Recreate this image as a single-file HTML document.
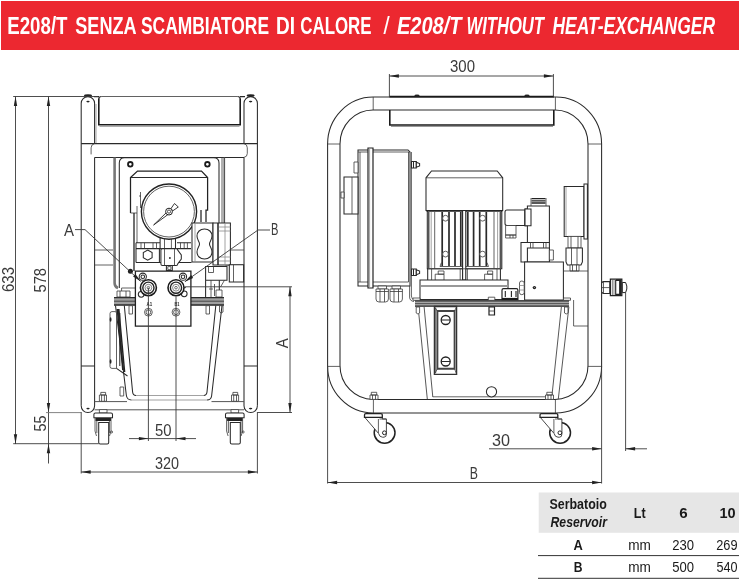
<!DOCTYPE html>
<html>
<head>
<meta charset="utf-8">
<title>E208/T</title>
<style>
html,body{margin:0;padding:0;background:#fff;}
body{width:739px;height:582px;overflow:hidden;font-family:"Liberation Sans",sans-serif;}
svg{display:block;position:absolute;left:0;top:0;will-change:transform;}
text{font-family:"Liberation Sans",sans-serif;}
.o{fill:none;stroke:#2a2a2a;stroke-width:1.05;}
.t{fill:none;stroke:#3a3a3a;stroke-width:.8;}
.g{fill:none;stroke:#8a8a8a;stroke-width:.8;}
.k{fill:none;stroke:#1a1a1a;stroke-width:1.6;}
.w{fill:#fff;stroke:#2a2a2a;stroke-width:1.05;}
.wt{fill:#fff;stroke:#3a3a3a;stroke-width:.8;}
.d{fill:none;stroke:#3a3a3a;stroke-width:.9;}
.a{fill:#222;stroke:none;}
.dt{fill:#3a3a3a;font-size:16.5px;}
.hb{fill:#fff;font-weight:bold;font-size:23px;}
.tb{fill:#1a1a1a;font-weight:bold;font-size:14px;}
.tr{fill:#1a1a1a;font-size:14px;}
</style>
</head>
<body>
<svg width="739" height="582" viewBox="0 0 739 582">
<!-- HEADER -->
<rect x="1" y="1" width="738" height="49" fill="#ec2830"/>
<text class="hb" x="7.25" y="33.5" textLength="60.28" lengthAdjust="spacingAndGlyphs">E208/T</text>
<text class="hb" x="75.25" y="33.5" textLength="61.32" lengthAdjust="spacingAndGlyphs">SENZA</text>
<text class="hb" x="141.00" y="33.5" textLength="128.03" lengthAdjust="spacingAndGlyphs">SCAMBIATORE</text>
<text class="hb" x="276.00" y="33.5" textLength="19.01" lengthAdjust="spacingAndGlyphs">DI</text>
<text class="hb" x="300.25" y="33.5" textLength="71.31" lengthAdjust="spacingAndGlyphs">CALORE</text>
<text class="hb" x="384.00" y="33.5" font-style="italic" textLength="4.33" lengthAdjust="spacingAndGlyphs">/</text>
<text class="hb" x="397.00" y="33.5" font-style="italic" textLength="64.53" lengthAdjust="spacingAndGlyphs">E208/T</text>
<text class="hb" x="466.50" y="33.5" font-style="italic" textLength="77.51" lengthAdjust="spacingAndGlyphs">WITHOUT</text>
<text class="hb" x="552.50" y="33.5" font-style="italic" textLength="162.50" lengthAdjust="spacingAndGlyphs">HEAT-EXCHANGER</text>

<!-- TABLE -->
<g id="table">
<rect x="538.7" y="492.5" width="201" height="40.3" fill="#e6e6e6"/>
<text class="tb" x="549.50" y="508.8" textLength="57.27" lengthAdjust="spacingAndGlyphs">Serbatoio</text>
<text class="tb" x="550.50" y="526.7" font-style="italic" textLength="56.50" lengthAdjust="spacingAndGlyphs">Reservoir</text>
<text class="tb" x="633.75" y="517.6" textLength="11.83" lengthAdjust="spacingAndGlyphs">Lt</text>
<text class="tb" x="679.25" y="517.6" textLength="8.41" lengthAdjust="spacingAndGlyphs">6</text>
<text class="tb" x="719.50" y="517.6" textLength="16.15" lengthAdjust="spacingAndGlyphs">10</text>
<text class="tb" x="573.50" y="549.8" textLength="9.32" lengthAdjust="spacingAndGlyphs">A</text>
<text class="tr" x="628.25" y="549.8" textLength="22.66" lengthAdjust="spacingAndGlyphs">mm</text>
<text class="tr" x="672.25" y="549.8" textLength="21.83" lengthAdjust="spacingAndGlyphs">230</text>
<text class="tr" x="716.25" y="549.8" textLength="21.33" lengthAdjust="spacingAndGlyphs">269</text>
<text class="tb" x="573.75" y="571.8" textLength="8.76" lengthAdjust="spacingAndGlyphs">B</text>
<text class="tr" x="628.25" y="571.8" textLength="22.66" lengthAdjust="spacingAndGlyphs">mm</text>
<text class="tr" x="672.25" y="571.8" textLength="21.82" lengthAdjust="spacingAndGlyphs">500</text>
<text class="tr" x="716.50" y="571.8" textLength="21.05" lengthAdjust="spacingAndGlyphs">540</text>
<line x1="538" y1="555.6" x2="739" y2="555.6" stroke="#333" stroke-width="1"/>
<line x1="538" y1="578.3" x2="739" y2="578.3" stroke="#333" stroke-width="1"/>
</g>

<!-- LEFT VIEW -->
<g id="left">
<!-- posts -->
<path class="o" d="M81.2,405.7 V103.3 A6.7,6.7 0 0 1 94.6,103.3 V143.6"/>
<path class="o" d="M81.2,405.7 A6.7,6.8 0 0 0 94.6,405.7 V157.4"/>
<path class="g" d="M96,104 V143"/>
<path class="o" d="M257.4,405.7 V103.3 A6.7,6.7 0 0 0 244,103.3 V143.6"/>
<path class="o" d="M257.4,405.7 A6.7,6.8 0 0 1 244,405.7 V157.4"/>
<ellipse cx="88" cy="95.6" rx="4" ry="1.3" fill="#222"/>
<ellipse cx="250.6" cy="95.6" rx="4" ry="1.3" fill="#222"/>
<ellipse cx="88" cy="101.6" rx="1.7" ry=".8" fill="#222"/>
<ellipse cx="250.6" cy="101.6" rx="1.7" ry=".8" fill="#222"/>
<ellipse cx="88" cy="408.6" rx="1.7" ry=".8" fill="#222"/>
<ellipse cx="250.6" cy="408.6" rx="1.7" ry=".8" fill="#222"/>
<path class="o" d="M81.2,366 H94.6 M244,366 H257.4"/>
<!-- handle -->
<path class="t" d="M101.5,96.5 H237.5"/>
<path class="k" d="M98.8,98.5 V124.8 H240.2 V98.5"/>
<path class="o" d="M98.8,99 Q98.8,96.5 101.5,96.5 M240.2,99 Q240.2,96.5 237.5,96.5 M94,96.6 H99 M240,96.6 H245"/>
<path d="M99.5,126.3 H239.5" stroke="#999" stroke-width="1" fill="none"/>
<!-- crossbar -->
<path class="o" d="M81.2,143.6 H257.4"/>
<path class="t" d="M94.6,143.6 Q91.1,144.4 91.1,147.8 V154.4"/>
<path class="t" d="M244,143.6 Q247.3,144.4 247.3,147.8 V153.5 Q247.3,156.8 244,157.4"/>
<path class="o" d="M94.6,157.4 H244"/>
<!-- cross braces left -->
<path class="t" d="M94.6,250 H113 M94.6,265 H113"/>
<path class="t" d="M225.5,250 H244 M225.5,265 H244"/>
<!-- gray band left -->
<path d="M114.6,157.4 V283 Q114.6,287 118,288" stroke="#777" stroke-width="2.6" fill="none"/>
<!-- panel -->
<path class="o" d="M119.3,288 V163 Q119.3,157.8 124.5,157.8 H213.8 Q219,157.8 219,163 V223"/>
<path class="t" d="M222,157.4 V223"/>
<path d="M224.3,157.4 V223" stroke="#555" stroke-width="1.6" fill="none"/>
<circle cx="130.3" cy="164.3" r="2.3" fill="#fff" stroke="#1a1a1a" stroke-width="1.8"/>
<circle cx="207.4" cy="164.3" r="2.3" fill="#fff" stroke="#1a1a1a" stroke-width="1.8"/>
<!-- motor cover -->
<path d="M130.5,213 V177.5 L137.5,171 H201.5 L207.6,177.5 V210 H206 V222 M201,210 V222" fill="none" stroke="#222" stroke-width="1.25"/>
<path class="o" d="M130.5,177.5 H207.6"/>
<path class="t" d="M130.5,213 H137 M137,206 V243 M140.5,192 V208 M139,196 H141"/>
<path d="M134,213 V271" stroke="#222" stroke-width="1.3" fill="none"/>
<!-- brackets behind gauge -->
<path class="o" d="M136,242.7 H160 M136,248.6 H160 M177,242.7 H191 M177,248.6 H191 M136,242.7 V262.4 M159.4,248.6 V262.4 M136,262.4 H161 M177.7,262.4 H191.5"/>
<path class="t" d="M184.2,242.7 V248.6 M187.4,242.7 V248.6 M141,242.7 V248.6 M144.5,242.7 V248.6 M153,242.7 V248.6 M156.5,242.7 V248.6 M180.5,242.7 V248.6"/>
<path class="w" d="M147.7,250 L152.1,252.5 V257.7 L147.7,260.2 L143.3,257.7 V252.5 Z"/>
<!-- gauge stem -->
<path d="M160.1,238 H175.5 V248.6 H160.1 Z" fill="#fff"/><path class="o" d="M160.1,237.6 V248.6 H175.5 V237.6"/>
<path class="t" d="M164.5,239 V248.6 M171.4,239 V248.6"/>
<path class="w" d="M162.4,248.6 H176.2 Q177.7,248.6 177.7,250 L181.3,255 V259 L177.7,264 Q177.7,265.4 176.2,265.4 H162.4 Q160.9,265.4 160.9,264 V250 Q160.9,248.6 162.4,248.6 Z"/>
<path class="t" d="M164.5,248.6 V265.4 M174.5,248.6 V265.4"/>
<circle cx="169.9" cy="258" r=".9" fill="#222"/>
<path class="w" d="M166.4,265.4 H172.3 V270.6 H166.4 Z"/>
<path class="t" d="M167.8,266.6 H170.9 V269.6 H167.8 Z"/>
<!-- gauge -->
<circle cx="169" cy="211.6" r="27.6" fill="#fff" stroke="#222" stroke-width="1.4"/>
<circle cx="169" cy="211.6" r="25.4" class="t"/>
<path d="M153.6,225 L166.5,212.5 L168.2,214.4 Z" fill="#fff" stroke="#222" stroke-width=".9"/>
<path d="M171,208.5 L174.5,203.5 L178.3,207 L172.5,211 Z" fill="#fff" stroke="#222" stroke-width=".9"/>
<circle cx="169" cy="211.6" r="3.4" fill="#fff" stroke="#222" stroke-width="1"/>
<circle cx="169" cy="211.6" r="1.6" fill="#fff" stroke="#222" stroke-width=".8"/>
<!-- solenoid block right of gauge -->
<path class="w" d="M192,223 H213 V262 H192 Z"/>
<path class="g" d="M195,223 V262"/>
<path class="w" d="M204.5,229 C209,229 212,232 212,236 C212,240 209.5,241.5 209.5,244 C209.5,246.5 212,248 212,252 C212,256 209,259 204.5,259 C200,259 197,256 197,252 C197,248 199.5,246.5 199.5,244 C199.5,241.5 197,240 197,236 C197,232 200,229 204.5,229 Z"/>
<path class="w" d="M213,223 H230.4 V265 H213 Z"/>
<path class="g" d="M219,227 H230.4 M219,231 H230.4 M219,257 H230.4 M219,261 H230.4 M225,223 V265"/>
<path d="M218,223 V265" stroke="#222" stroke-width="1.5" fill="none"/>
<!-- small boxes right below -->
<path class="w" d="M205.6,266.5 H227 V280.2 H205.6 Z M229.3,264.8 H243.6 V282 H229.3 Z"/>
<path class="t" d="M233.5,264.8 V282 M208.5,266.5 V272.5 H213.5 V266.5"/>
<path class="o" d="M205.6,280.2 V297 M219.3,280.2 V290"/>
<path class="t" d="M211,280.2 V297 M214.5,284 V296 M224.5,280.2 L220.5,287 M209,289 H213 M216,290 H222 V297 H216 Z"/>
<!-- flange -->
<path d="M114,301.3 H135.4 M190.9,301.3 H224" stroke="#a0a0a0" stroke-width="8" fill="none"/>
<path d="M114,297.6 H135.4 M190.9,297.6 H224 M114,305 H135.4 M190.9,305 H224" stroke="#2a2a2a" stroke-width="1.3" fill="none"/>
<path d="M114,301.2 H135.4 M190.9,301.2 H224" stroke="#444" stroke-width="1" fill="none"/>
<path class="t" d="M117,291 H130 V297 H117 Z M120,291 V297 M126,291 V297 M121.6,288 H135 M121.6,288 V291"/>
<path class="wt" d="M129,305.7 H132.5 V314 H129 Z M206,305.7 H209.5 V314 H206 Z M219.5,305.7 H223 V312 Q221,314 219.5,312 Z"/>
<!-- tank -->
<path class="o" d="M115.5,305.5 L126.3,395 Q126.8,400 131.5,400 M207,400 Q211,400 211.6,396 L222,305.5 M124.3,305.5 L132.6,392 Q133,395.5 136,395.5 M203.5,395.5 Q206.6,395.5 207,392 L215.8,305.5"/>
<path class="g" d="M131.5,400 H207 M136,395.5 H203.5"/>
<!-- side level gauge -->
<path d="M117.3,309 L122.8,370 M118.8,309 L124.6,372" stroke="#222" stroke-width="1.5" fill="none"/>
<path class="wt" d="M112,311.6 H115 Q116.5,311.6 116.5,313 V368.4 H112 Q110,368.4 110,366.4 V313.6 Q110,311.6 112,311.6 Z"/>
<path class="o" d="M116.5,368.4 L127.5,376 M119.8,313 V366"/>
<ellipse cx="110.6" cy="319.5" rx=".9" ry="2.2" fill="#222"/>
<ellipse cx="110.6" cy="361.5" rx=".9" ry="2.2" fill="#222"/>
<path class="wt" d="M120,387 H123.7 V396 H120 Z"/>
<!-- bottom bar -->
<path d="M94.6,401.6 H127 M211.5,401.6 H244 M94.6,409.8 H244" fill="none" stroke="#555" stroke-width="1"/>
<!-- bolts -->
<path class="wt" d="M99.4,395 H106.5 V401.3 H99.4 Z M100.8,392.4 H105.6 V395 H100.8 Z M231.5,395 H238.6 V401.3 H231.5 Z M232.9,392.4 H237.7 V395 H232.9 Z"/>
<path class="t" d="M101.6,395 V401.3 M104.4,395 V401.3 M233.7,395 V401.3 M236.5,395 V401.3"/>
<!-- casters -->
<g id="cL">
<path class="wt" d="M99.4,409.6 H107 V413 H99.4 Z"/>
<path class="w" d="M95.4,413 H111 Q112.5,413 112.5,414.5 V417.8 H93.9 V414.5 Q93.9,413 95.4,413 Z"/>
<path d="M95.5,419.5 H111" stroke="#222" stroke-width="3" fill="none"/>
<path class="t" d="M95,418 V431 L96.5,436 M111,418 V431 L109.5,436 M96.8,421 V433 M109.4,421 V433"/>
<path class="w" d="M98.7,422.5 H108.7 V442.5 Q108.7,444 107.2,444 H100.2 Q98.7,444 98.7,442.5 Z"/>
<circle cx="111.6" cy="432" r="1" class="t"/>
</g>
<use href="#cL" x="131.6"/>
<!-- manifold -->
<path d="M135.4,271.1 H190.9 V326.2 H135.4 Z" fill="#fff" stroke="#222" stroke-width="1.3"/>
<circle cx="142.8" cy="276.7" r="3.6" class="w"/><circle cx="142.8" cy="276.7" r="1.8" class="w"/>
<circle cx="183" cy="276.7" r="3.6" class="w"/><circle cx="183" cy="276.7" r="1.8" class="w"/>
<circle cx="141.2" cy="294.3" r="2.9" class="w"/>
<circle cx="184.2" cy="293.8" r="2.9" class="w"/>
<g id="port">
<circle cx="148.4" cy="287.7" r="8" fill="#fff" stroke="#1a1a1a" stroke-width="1.6"/>
<circle cx="148.4" cy="287.7" r="5.6" fill="none" stroke="#222" stroke-width="1.4"/>
<circle cx="148.4" cy="287.7" r="3.4" fill="none" stroke="#555" stroke-width=".7"/>
<circle cx="148.4" cy="287.7" r="1.3" fill="none" stroke="#333" stroke-width=".7"/>
</g>
<use href="#port" x="27.6"/>
<circle cx="148.4" cy="312.2" r="3.9" class="wt"/><circle cx="148.4" cy="312.2" r="2.4" class="wt"/>
<circle cx="176" cy="312.2" r="3.9" class="wt"/><circle cx="176" cy="312.2" r="2.4" class="wt"/>
<text x="146.6" y="306.3" font-size="4.8" font-weight="bold" fill="#222" textLength="5.6" lengthAdjust="spacingAndGlyphs">A1</text>
<text x="174.4" y="306.3" font-size="4.8" font-weight="bold" fill="#222" textLength="5" lengthAdjust="spacingAndGlyphs">B1</text>
<circle cx="185" cy="287.4" r=".8" fill="#222"/>
<circle cx="130.4" cy="271.3" r="2.5" fill="#1a1a1a"/>
</g>

<!-- RIGHT VIEW -->
<g id="right">
<!-- frame tube -->
<rect class="o" x="327.6" y="97" width="274" height="316" rx="45.6" ry="47"/>
<rect class="o" x="340" y="110" width="248" height="289.4" rx="33" ry="34"/>
<path class="t" d="M373.2,97 V110 M555.4,97 V110 M373.4,399.4 V413 M555.4,399.4 V413 M327.6,144 H340 M588,144 H601.6 M327.6,366.4 H340 M588,366.4 H601.6"/>
<!-- handle -->
<path d="M389.4,96.6 H554" stroke="#1a1a1a" stroke-width="1.6" fill="none"/>
<ellipse cx="417" cy="95.7" rx="2.6" ry="1.1" fill="#222"/><ellipse cx="527" cy="95.7" rx="2.6" ry="1.1" fill="#222"/>
<path class="k" d="M389.8,110 V125 H553.8 V110"/>
<path d="M391,126.5 H553" stroke="#999" stroke-width="1" fill="none"/>
<!-- electrical box -->
<path class="w" d="M358,150 H408 L410,152 V286 H358 Z"/>
<path class="t" d="M360,152 V282 M358,152 H368 M373,152 H410 M358,282 H368 M373,282 H408.5 M408.5,152 V282"/>
<path d="M368,148 H373 V288 H368 Z" fill="#fff" stroke="#222" stroke-width="1.2"/>
<path class="g" d="M369.6,148 V288"/>
<path class="wt" d="M354,162 H358 V173 H354 Z"/>
<path class="w" d="M344,177 H358 V214 H344 Z"/>
<path class="t" d="M352,177 V214"/>
<path class="wt" d="M341,192 H344 V198 H341 Z"/>
<!-- box right bracket -->
<path class="t" d="M411.4,152 V296 Q411.4,299.5 415,300 M409.6,286 V297 Q409.6,301 414,301.5"/>
<g id="bolt1"><path class="w" d="M411.5,161.5 H416.3 V168 H411.5 Z"/><path d="M416.3,162.3 L419.6,163.6 V165.9 L416.3,167.2 Z" class="w"/><path class="o" d="M413.5,161.5 V168"/></g>
<use href="#bolt1" y="107.5"/>
<!-- glands -->
<g id="gland"><path class="wt" d="M378,286 H386.5 V289 H378 Z"/><path class="wt" d="M376,289 H388.4 V299 Q388.4,302 385.4,302 H379 Q376,302 376,299 Z"/><path class="t" d="M380,289 V302 M384.5,289 V302 M376,291.5 H388.4"/></g>
<use href="#gland" x="14"/>
<!-- motor -->
<path class="w" d="M426,210.5 V177.8 L431.5,171 H497.2 L502.7,177.8 V210.5 Z"/>
<path class="t" d="M426,177.8 H502.7"/>
<path class="w" d="M427.3,210.5 H501.8 V268.8 H427.3 Z"/>
<path d="M426.5,211 H502.3" stroke="#222" stroke-width="1.6" fill="none"/>
<path d="M428.4,212 V268 M500.7,212 V268" stroke="#555" stroke-width="2.2" fill="none"/>
<path class="g" d="M431.2,212 V268.5 M497.6,212 V268.5"/>
<path class="t" d="M434.7,212 V268.5 M494,212 V268.5"/>
<path d="M442.2,212 V266 M449,212 V266 M455,212 V266 M460.8,212 V266 M467.8,212 V266 M473.6,212 V266 M479.7,212 V266 M486.3,212 V266" stroke="#2a2a2a" stroke-width="1.7" fill="none"/>
<path class="t" d="M441.4,262.6 L440,266.5 M487,262.6 L488.5,266.5 M440,266.5 H488.5"/>
<path d="M462.6,211 V280 H465.8 V211" fill="#fff" stroke="#222" stroke-width="1.1"/>
<circle cx="445.5" cy="218.2" r="2.9" class="wt"/><circle cx="445.5" cy="254.1" r="2.9" class="wt"/>
<circle cx="482.6" cy="218.2" r="2.9" class="wt"/><circle cx="482.6" cy="254.1" r="2.9" class="wt"/>
<!-- motor base -->
<path class="o" d="M427.7,268.8 V280.4 M500.4,268.8 V280.4"/>
<path class="t" d="M431.6,268.8 V280.4 M497,268.8 V280.4 M460.2,268.8 V280.4 M467.4,268.8 V280.4 M427.7,268.8 H500.4"/>
<path class="wt" d="M435.2,274.2 H444 V280.4 H435.2 Z M438.2,271 H444 V274.2 H438.2 Z M484.6,274.2 H492.7 V280.4 H484.6 Z M487.6,271 H492.7 V274.2 H487.6 Z"/>
<!-- mounting plate -->
<path class="w" d="M420,280 H508 V299.5 H420 Z"/>
<path d="M421,286 H508" stroke="#999" stroke-width="2.2" fill="none"/>
<!-- filler cap -->
<path d="M503.5,288.7 H516.4 Q517.9,288.7 517.9,290.2 V300 H502 V290.2 Q502,288.7 503.5,288.7 Z" fill="#fff" stroke="#222" stroke-width="1.2"/>
<path d="M505.3,291 V297 M511.4,291 V297 M516,291 V297" stroke="#222" stroke-width="1.1" fill="none"/>
<path d="M502,299 H517.9" stroke="#1a1a1a" stroke-width="2.2" fill="none"/>
<!-- DIN connector -->
<path class="w" d="M507,210 H525 V225.5 H507 Q505,225.5 505,223.5 V212 Q505,210 507,210 Z"/>
<path class="wt" d="M505.6,225.5 H516 V235 H505.6 Z M505.6,235 H516 V238 H505.6 Z"/>
<path class="t" d="M510,235 V238 M513,235 V238"/>
<path class="w" d="M525,209 H531 V225.8 H525 Z"/>
<!-- solenoid coil -->
<path class="w" d="M527.4,206 H549.4 V242.4 H527.4 Z"/>
<path d="M531.5,198.6 H545.5 M531.5,200.8 H545.5 M531.5,203 H545.5" stroke="#222" stroke-width="1.3" fill="none"/>
<path class="t" d="M531,198 V206 M546,198 V206"/>
<path class="w" d="M525,209 H531 V225.8 H525 Z"/>
<!-- valve body -->
<path class="w" d="M521,242.4 H549.4 V262 H521 Z"/>
<path class="w" d="M527.4,248 H549.4 V262 H527.4 Z"/>
<path class="t" d="M530.5,242.4 V248 M533,242.4 V248 M543.5,242.4 V248 M546,242.4 V248"/>
<path class="wt" d="M549.4,250 H553.4 V260 H549.4 Z"/>
<!-- manifold -->
<path class="w" d="M524.6,262 H563.4 V300 H524.6 Z"/>
<circle cx="534.4" cy="287.6" r="1.7" fill="#222"/><circle cx="534.4" cy="287.6" r=".5" fill="#aaa"/>
<path class="wt" d="M519.5,283 Q519.5,281 521.8,281 Q524.2,281 524.2,283 V292.5 Q524.2,294.7 521.8,294.7 Q519.5,294.7 519.5,292.5 Z"/>
<path class="g" d="M519.5,285.5 H524.2 M519.5,290 H524.2"/>
<!-- gauge side -->
<path class="w" d="M564.2,186.4 H584 V236.4 H564.2 Z"/>
<path class="g" d="M566,187 V236"/>
<path class="w" d="M584,184 H587.4 V239 H584 Z"/>
<path class="wt" d="M568,236.4 H581 V248 H568 Z"/>
<path class="t" d="M571,236.4 V248 M578,236.4 V248"/>
<path class="w" d="M566,248 H582.4 V262 L581,265 H567.4 L566,262 Z"/>
<path class="t" d="M571.5,248 V265 M577,248 V265"/>
<path class="wt" d="M570,265 H579 V271 H570 Z"/>
<path class="t" d="M572.5,265 V271 M576.5,265 V271"/>
<!-- block behind -->
<path class="t" d="M563.4,271 H588 M573.6,300 V326 H588"/>
<!-- tank -->
<rect x="415" y="300.3" width="154" height="6.2" fill="#a8a8a8"/>
<path d="M415,300.8 H569" stroke="#222" stroke-width="1.2" fill="none"/>
<path d="M415,303.6 H569" stroke="#555" stroke-width="1" fill="none"/>
<path d="M415,306.2 H569" stroke="#2a2a2a" stroke-width="1.3" fill="none"/>
<path class="wt" d="M413,298 H420 V300.3 H413 Z M563.5,298 H570.5 V300.3 H563.5 Z M488.3,297.2 H494.8 V300.3 H488.3 Z"/>
<path d="M418.1,306.8 L427.3,399 M424.1,306.8 L432.8,397 M568.9,306.8 L558.3,399 M561.4,306.8 L551.8,397" fill="none" stroke="#444" stroke-width=".9"/>
<path d="M432.8,396.8 H551.8" fill="none" stroke="#555" stroke-width=".9"/>
<path class="wt" d="M416.2,307 H419.6 V313 Q418,315 416.2,313 Z M564.5,307 H568 V313 Q566.2,315 564.5,313 Z"/>
<path d="M489,307 H494.5 V315 H489 Z" fill="#fff" stroke="#222" stroke-width="1.2"/>
<path class="t" d="M489,311 H494.5"/>
<!-- sight gauge -->
<path d="M434.4,306.5 H456.6 V374.3 H434.4 Z" fill="#fff" stroke="#333" stroke-width="1.3"/>
<path d="M435.6,308 V373" stroke="#777" stroke-width="1.2" fill="none"/>
<path class="t" d="M434.4,306.5 L437.4,311 M456.6,306.5 L454.6,311 M434.4,374.3 L437.4,368.8 M456.6,374.3 L454.6,368.8"/>
<path d="M437.4,311 H454.6 V368.8 H437.4 Z" fill="#fff" stroke="#444" stroke-width="1.9"/>
<circle cx="445.7" cy="320" r="4.5" fill="#fff" stroke="#222" stroke-width="1.3"/><path class="o" d="M441.3,320 H450.1"/>
<circle cx="445.7" cy="361.5" r="4.5" fill="#fff" stroke="#222" stroke-width="1.3"/><path class="o" d="M441.3,361.5 H450.1"/>
<!-- drain -->
<circle cx="491.5" cy="391.8" r="5.1" class="w"/>
<!-- bolts on bottom tube -->
<g id="bt"><path class="wt" d="M370,395 H378 V399.4 H370 Z M371.3,392.3 H376.7 V395 H371.3 Z"/><path class="t" d="M372.5,395 V399.4 M375.5,395 V399.4"/></g>
<use href="#bt" x="175.5"/>
<!-- casters -->
<g id="cs">
<circle cx="384.6" cy="432.8" r="10.4" fill="#fff" stroke="#222" stroke-width="1.5"/>
<path d="M364.8,417.4 L378.6,433.5 Q379.5,437.2 382.5,437.2 H384 Q386.4,437.2 386.4,434 V419 H382.3 V417.4 Z" fill="#fff" stroke="#333" stroke-width=".9"/>
<path class="t" d="M378.4,419 V433 M379.5,419 H386.4"/>
<path d="M365.8,413.6 H381 Q382.3,413.6 382.3,415 V417.4 H364.5 V415 Q364.5,413.6 365.8,413.6 Z" fill="#fff" stroke="#222" stroke-width="1.3"/>
<circle cx="384.4" cy="432.8" r="1.9" fill="#fff" stroke="#222" stroke-width="1"/>
</g>
<use href="#cs" x="175.5"/>
<!-- quick coupler -->
<path class="w" d="M601.6,283.2 L603,281.6 H609.8 V293.4 H603 L601.6,291.8 Z"/>
<path class="t" d="M601.6,287.6 H609.8 M603.5,281.6 V293.4"/>
<path d="M610.4,279.2 H621.8 V295.6 H610.4 Z" fill="#fff" stroke="#222" stroke-width="1.3"/>
<path d="M612.4,279.5 V295 M614,279.5 V295" stroke="#555" stroke-width=".7" fill="none"/>
<path d="M615.7,280 V295" stroke="#222" stroke-width="1.1" fill="none"/>
<path d="M620.2,280 V295" stroke="#222" stroke-width="2.2" fill="none"/>
<path d="M616,280.2 H621 M616,294.6 H621" stroke="#222" stroke-width="1.8" fill="none"/>
<path d="M622.3,282.5 H625.6 L626.8,286 V289 L625.6,292.6 H622.3 Z" fill="#fff" stroke="#222" stroke-width="1"/>
</g>

<!-- DIMENSIONS -->
<g id="dims">
<defs>
<path id="ar" d="M0,0 L-9.5,-1.7 L-9.5,1.7 Z" fill="#222"/>
</defs>
<!-- LEFT: vertical dims -->
<path class="d" d="M13.2,96.5 H98 M13.2,443.7 H98.7"/>
<path class="d" d="M15.5,96.5 V444 M48.5,96.5 V463.5"/>
<use href="#ar" transform="translate(15.5,96.5) rotate(-90)"/>
<use href="#ar" transform="translate(15.5,443.7) rotate(90)"/>
<use href="#ar" transform="translate(48.5,96.5) rotate(-90)"/>
<use href="#ar" transform="translate(48.5,412.6) rotate(90)"/>
<use href="#ar" transform="translate(48.5,443.7) rotate(-90)"/>
<text class="dt" transform="translate(13.6,292) rotate(-90)" textLength="25" lengthAdjust="spacingAndGlyphs">633</text>
<text class="dt" transform="translate(45.6,292.4) rotate(-90)" textLength="24.4" lengthAdjust="spacingAndGlyphs">578</text>
<text class="dt" transform="translate(45.6,431.6) rotate(-90)" textLength="16" lengthAdjust="spacingAndGlyphs">55</text>
<path d="M46,412.6 H81.2" stroke="#777" stroke-width=".9" fill="none"/>
<!-- LEFT: 320 -->
<path class="d" d="M81.2,412 V473.5 M257.4,412 V473.5 M81.2,472 H257.4"/>
<use href="#ar" transform="translate(81.2,472) rotate(180)"/>
<use href="#ar" transform="translate(257.4,472)"/>
<text class="dt" x="155" y="469" textLength="24" lengthAdjust="spacingAndGlyphs">320</text>
<!-- LEFT: 50 -->
<path class="d" d="M148.4,287.7 V441 M176,296.5 V441 M129,438.6 H196"/>
<use href="#ar" transform="translate(148.4,438.6)"/>
<use href="#ar" transform="translate(176,438.6) rotate(180)"/>
<text class="dt" x="155" y="435.6" textLength="16.5" lengthAdjust="spacingAndGlyphs">50</text>
<!-- LEFT: A -->
<path class="d" d="M185.3,286.8 H292 M257.4,412.5 H292 M290,286.8 V412.5"/>
<use href="#ar" transform="translate(290,286.8) rotate(-90)"/>
<use href="#ar" transform="translate(290,412.5) rotate(90)"/>
<text class="dt" transform="translate(287.6,348.2) rotate(-90)" textLength="10" lengthAdjust="spacingAndGlyphs">A</text>
<!-- leaders A / B -->
<path class="d" d="M75,229.6 H85 L140.6,281.3"/>
<use href="#ar" transform="translate(141.2,281.8) rotate(43)"/>
<text class="dt" x="64" y="235.6" textLength="10" lengthAdjust="spacingAndGlyphs">A</text>
<path class="d" d="M270,230 H258 L185,281.6"/>
<use href="#ar" transform="translate(184.4,282) rotate(144.7)"/>
<text class="dt" x="271" y="235.4" textLength="7.4" lengthAdjust="spacingAndGlyphs">B</text>
<!-- RIGHT: 300 -->
<path class="d" d="M389.4,74 V97 M553.4,74 V97 M389.4,76 H553.4"/>
<use href="#ar" transform="translate(389.4,76) rotate(180)"/>
<use href="#ar" transform="translate(553.4,76)"/>
<text class="dt" x="450" y="72" textLength="25" lengthAdjust="spacingAndGlyphs">300</text>
<!-- RIGHT: 30 -->
<path class="d" d="M489,448.8 H601.6 M625.6,448.8 H647 M601.6,366 V483.5 M625.6,292.6 V451"/>
<use href="#ar" transform="translate(601.6,448.8)"/>
<use href="#ar" transform="translate(625.6,448.8) rotate(180)"/>
<text class="dt" x="492" y="446" textLength="18" lengthAdjust="spacingAndGlyphs">30</text>
<!-- RIGHT: B -->
<path class="d" d="M327.6,366 V483.5 M327.6,482.5 H601.6"/>
<use href="#ar" transform="translate(327.6,482.5) rotate(180)"/>
<use href="#ar" transform="translate(601.6,482.5)"/>
<text class="dt" x="469.8" y="479" textLength="8.2" lengthAdjust="spacingAndGlyphs">B</text>
</g>
</svg>
</body>
</html>
